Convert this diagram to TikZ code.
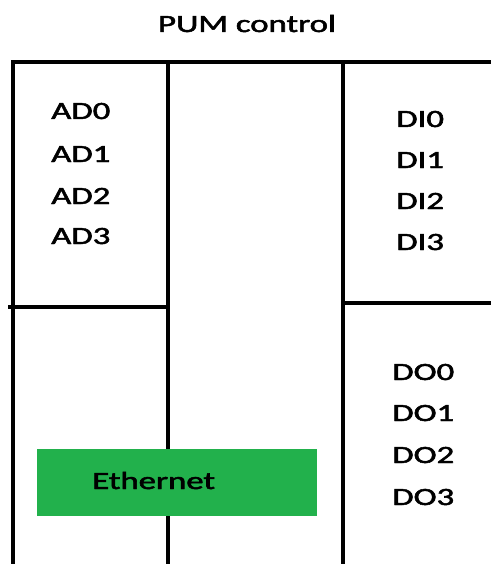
\documentclass[tikz,border=0pt]{standalone}
\usepackage{fontspec}
\setmainfont{Carlito}
\definecolor{ethgreen}{HTML}{22B14C}
\newcommand{\heavy}[1]{\special{pdf:literal direct 2 Tr 0.45 w}#1\special{pdf:literal direct 0 Tr}}
\begin{document}
\begin{tikzpicture}[x=1pt,y=-1pt,
  wall/.style={line width=4pt},
  lbl/.style={anchor=base west,inner sep=0pt,font=\fontsize{24.8}{30}\selectfont,xscale=1.4}]
\useasboundingbox (0,0) rectangle (491,564);
\coordinate (TL) at (12.5,62);
\coordinate (TR) at (491,62);
\coordinate (BL) at (12.5,564);
\coordinate (M1) at (167.5,62);
\coordinate (M2) at (342.5,62);
\coordinate (M1b) at (167.5,564);
\coordinate (M2b) at (342.5,564);
\coordinate (LH) at (8,306.5);
\coordinate (RH) at (491,303);
% frame of the controller
\draw[wall] (BL) -- (TL) -- (TR);
\draw[wall] (M1) -- (M1b);
\draw[wall] (M2) -- (M2b);
\draw[wall] (LH) -- (LH -| M1);
\draw[wall] (RH -| M2) -- (RH);
% ethernet port
\fill[ethgreen] (37,449) rectangle (317,516);
\node[lbl] (eth) at (92,489) {\heavy{Ethernet}};
\node[lbl,anchor=base] (title) at (247,32) {\heavy{PUM control}};
\node[lbl] (ad0) at (51,119) {\heavy{AD0}};
\node[lbl] (ad1) at (51,162) {\heavy{AD1}};
\node[lbl] (ad2) at (51,204) {\heavy{AD2}};
\node[lbl] (ad3) at (51,244) {\heavy{AD3}};
\node[lbl] (di0) at (396,127) {\heavy{DI0}};
\node[lbl] (di1) at (396,168) {\heavy{DI1}};
\node[lbl] (di2) at (396,209) {\heavy{DI2}};
\node[lbl] (di3) at (396,250) {\heavy{DI3}};
\node[lbl] (do0) at (392,380) {\heavy{DO0}};
\node[lbl] (do1) at (392,421) {\heavy{DO1}};
\node[lbl] (do2) at (392,463) {\heavy{DO2}};
\node[lbl] (do3) at (392,505) {\heavy{DO3}};
\end{tikzpicture}
\end{document}
